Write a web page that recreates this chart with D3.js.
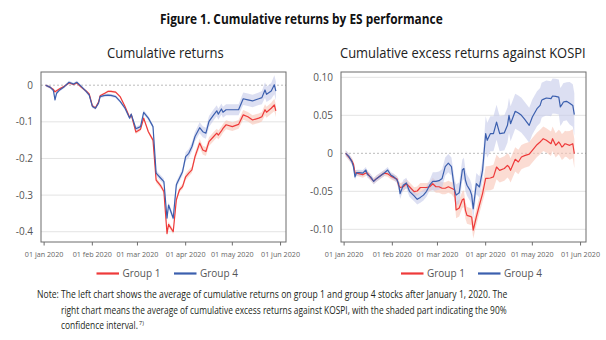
<!DOCTYPE html>
<html>
<head>
<meta charset="utf-8">
<script src="https://cdn.jsdelivr.net/npm/d3@7"></script>
<style>
  body { margin: 0; background: #fff; }
  svg { display: block; font-family: "Open Sans", sans-serif; }
</style>
</head>
<body>
<script>
// Figure 1 - cumulative returns by ES performance (two panels)

// ---- left panel: cumulative returns ----
const leftDates = ["01-02","01-05","01-07","01-08","01-09","01-11","01-14","01-17","01-20","01-22",
  "01-25","01-28","01-30","02-01","02-03","02-05","02-06","02-09","02-11","02-13",
  "02-16","02-19","02-22","02-25","02-26","02-29","03-03","03-05","03-08","03-11",
  "03-13","03-16","03-18","03-20","03-21","03-24","03-26","03-28","03-30","04-01",
  "04-03","04-05","04-07","04-10","04-12","04-14","04-16","04-19","04-21","04-22",
  "04-24","04-25","04-27","05-01","05-05","05-08","05-11","05-14","05-18","05-20",
  "05-22","05-23","05-26","05-28","05-29"];
const leftGroup1 = [0, -0.006, -0.012, -0.018, -0.015, -0.010, -0.003, 0.006, 0.002, 0.006,
  -0.006, -0.016, -0.024, -0.056, -0.062, -0.046, -0.029, -0.022, -0.017, -0.017,
  -0.019, -0.032, -0.058, -0.088, -0.080, -0.128, -0.120, -0.090, -0.127, -0.150,
  -0.259, -0.275, -0.290, -0.405, -0.380, -0.400, -0.313, -0.286, -0.277, -0.250,
  -0.240, -0.231, -0.195, -0.158, -0.177, -0.181, -0.154, -0.140, -0.131, -0.136,
  -0.125, -0.118, -0.108, -0.113, -0.107, -0.081, -0.086, -0.095, -0.090, -0.086,
  -0.067, -0.074, -0.063, -0.054, -0.070];
const leftGroup4 = [0, -0.006, -0.015, -0.040, -0.022, -0.013, -0.004, 0.008, 0.003, 0.008,
  -0.004, -0.017, -0.027, -0.058, -0.063, -0.049, -0.031, -0.028, -0.027, -0.028,
  -0.031, -0.045, -0.063, -0.090, -0.079, -0.119, -0.113, -0.074, -0.090, -0.113,
  -0.240, -0.254, -0.263, -0.363, -0.327, -0.363, -0.272, -0.254, -0.236, -0.195,
  -0.186, -0.168, -0.140, -0.116, -0.127, -0.131, -0.099, -0.081, -0.070, -0.079,
  -0.065, -0.074, -0.067, -0.067, -0.067, -0.037, -0.040, -0.043, -0.037, -0.034,
  -0.013, -0.025, -0.016, 0.001, -0.016];
// half width of the shaded band
const leftCi1 = [0.003, 0.003, 0.003, 0.003, 0.003, 0.003, 0.003, 0.003, 0.003, 0.003,
  0.003, 0.003, 0.003, 0.003, 0.003, 0.003, 0.003, 0.003, 0.003, 0.003,
  0.003, 0.003, 0.003, 0.003, 0.003, 0.005, 0.005, 0.005, 0.005, 0.005,
  0.007, 0.007, 0.007, 0.007, 0.007, 0.007, 0.007, 0.007, 0.007, 0.009,
  0.009, 0.009, 0.010, 0.012, 0.012, 0.012, 0.012, 0.012, 0.012, 0.012,
  0.012, 0.012, 0.012, 0.012, 0.012, 0.013, 0.013, 0.013, 0.013, 0.013,
  0.015, 0.015, 0.015, 0.017, 0.017];
const leftCi4 = [0.004, 0.004, 0.004, 0.004, 0.004, 0.004, 0.004, 0.004, 0.004, 0.004,
  0.004, 0.004, 0.004, 0.004, 0.004, 0.004, 0.004, 0.004, 0.004, 0.004,
  0.004, 0.004, 0.004, 0.004, 0.004, 0.006, 0.006, 0.006, 0.006, 0.006,
  0.008, 0.008, 0.008, 0.008, 0.008, 0.008, 0.009, 0.009, 0.010, 0.012,
  0.012, 0.012, 0.013, 0.015, 0.015, 0.015, 0.015, 0.015, 0.015, 0.015,
  0.015, 0.015, 0.015, 0.015, 0.015, 0.017, 0.017, 0.017, 0.017, 0.018,
  0.021, 0.021, 0.022, 0.026, 0.026];
const leftYTicks = [0, -0.1, -0.2, -0.3, -0.4];
const leftYLabels = ["0", "-0.1", "-0.2", "-0.3", "-0.4"];

// ---- right panel: cumulative excess returns against KOSPI ----
const rightDates = ["01-02","01-04","01-06","01-07","01-08","01-09","01-11","01-13","01-15","01-16",
  "01-18","01-20","01-22","01-25","01-27","01-29","01-31","02-02","02-04","02-05",
  "02-06","02-08","02-10","02-12","02-15","02-17","02-19","02-21","02-23","02-25",
  "02-27","02-29","03-02","03-04","03-06","03-08","03-10","03-12","03-13","03-15",
  "03-17","03-18","03-19","03-20","03-22","03-23","03-24","03-26","03-28","03-30",
  "04-01","04-02","04-04","04-06","04-08","04-10","04-13","04-15","04-16","04-17",
  "04-20","04-22","04-24","04-26","04-29","05-01","05-04","05-06","05-07","05-08",
  "05-10","05-13","05-14","05-16","05-18","05-19","05-20","05-21","05-22","05-23",
  "05-25","05-27","05-28"];
const rightGroup1 = [0, -0.005, -0.010, -0.014, -0.026, -0.026, -0.027, -0.028, -0.026, -0.026,
  -0.032, -0.0365, -0.033, -0.0285, -0.026, -0.027, -0.030, -0.032, -0.034, -0.042,
  -0.045, -0.044, -0.040, -0.044, -0.0505, -0.0496, -0.045, -0.045, -0.045, -0.044,
  -0.040, -0.044, -0.044, -0.046, -0.046, -0.044, -0.046, -0.048, -0.0746, -0.072,
  -0.061, -0.060, -0.075, -0.0816, -0.083, -0.0838, -0.101, -0.0838, -0.068, -0.053,
  -0.033, -0.033, -0.0325, -0.031, -0.018, -0.0224, -0.020, -0.0158, -0.018, -0.0224,
  -0.0079, -0.0114, -0.0049, -0.003, -0.001, 0.004, 0.0113, 0.0149, 0.017, 0.0192,
  0.0171, 0.0126, 0.0192, 0.0105, 0.0149, 0.012, 0.0083, 0.010, 0.0126, 0.012,
  0.0105, 0.0126, -0.0005];
const rightGroup4 = [0, -0.004, -0.011, -0.0175, -0.031, -0.0255, -0.0255, -0.026, -0.022, -0.028,
  -0.031, -0.037, -0.033, -0.0285, -0.0255, -0.022, -0.0285, -0.031, -0.035, -0.040,
  -0.053, -0.042, -0.039, -0.050, -0.056, -0.0605, -0.058, -0.055, -0.050, -0.042,
  -0.037, -0.037, -0.036, -0.033, -0.0175, -0.013, -0.0175, -0.048, -0.055, -0.052,
  -0.022, -0.020, -0.0355, -0.042, -0.0487, -0.055, -0.073, -0.040, -0.0443, -0.0224,
  0.0258, 0.0171, 0.0258, 0.0258, 0.041, 0.0258, 0.027, 0.0368, 0.050, 0.039,
  0.0553, 0.053, 0.050, 0.045, 0.0368, 0.0478, 0.0587, 0.063, 0.0697, 0.071,
  0.0728, 0.0719, 0.0754, 0.075, 0.074, 0.061, 0.064, 0.0675, 0.068, 0.0684,
  0.066, 0.063, 0.051];
const rightCi1 = [0.004, 0.004, 0.004, 0.004, 0.004, 0.004, 0.004, 0.004, 0.004, 0.004,
  0.004, 0.004, 0.004, 0.004, 0.004, 0.004, 0.004, 0.004, 0.004, 0.006,
  0.006, 0.006, 0.006, 0.006, 0.006, 0.006, 0.006, 0.006, 0.006, 0.006,
  0.008, 0.008, 0.008, 0.008, 0.008, 0.008, 0.008, 0.011, 0.011, 0.011,
  0.011, 0.011, 0.011, 0.011, 0.011, 0.011, 0.011, 0.011, 0.011, 0.011,
  0.016, 0.016, 0.016, 0.016, 0.016, 0.016, 0.016, 0.016, 0.016, 0.016,
  0.016, 0.016, 0.016, 0.016, 0.016, 0.016, 0.016, 0.016, 0.016, 0.016,
  0.016, 0.016, 0.016, 0.016, 0.016, 0.017, 0.017, 0.017, 0.017, 0.017,
  0.019, 0.019, 0.019];
const rightCi4 = [0.004, 0.004, 0.004, 0.004, 0.004, 0.004, 0.004, 0.004, 0.004, 0.004,
  0.004, 0.004, 0.004, 0.004, 0.004, 0.004, 0.004, 0.004, 0.004, 0.007,
  0.007, 0.007, 0.007, 0.007, 0.007, 0.007, 0.007, 0.007, 0.007, 0.007,
  0.012, 0.012, 0.012, 0.012, 0.012, 0.012, 0.012, 0.014, 0.014, 0.014,
  0.014, 0.014, 0.014, 0.014, 0.014, 0.014, 0.014, 0.014, 0.014, 0.014,
  0.023, 0.023, 0.023, 0.023, 0.023, 0.023, 0.023, 0.023, 0.023, 0.023,
  0.023, 0.023, 0.023, 0.023, 0.023, 0.023, 0.023, 0.023, 0.023, 0.023,
  0.023, 0.023, 0.023, 0.023, 0.023, 0.025, 0.025, 0.025, 0.025, 0.025,
  0.028, 0.028, 0.028];
const rightYTicks = [0.10, 0.05, 0, -0.05, -0.10];
const rightYLabels = ["0.10", "0.05", "0", "-0.05", "-0.10"];

// shared x ticks
const xTicks = ["01-01", "02-01", "03-01", "04-01", "05-01", "06-01"];
const xTickLabels = ["01 jan 2020", "01 feb 2020", "01 mar 2020", "01 apr 2020", "01 may 2020", "01 jun 2020"];

const seriesNames = ["Group 1", "Group 4"];
const lineColors = ["#ee3a3a", "#3b5fae"];
const bandColors = ["#f9c4b6", "#c5c9ea"];

const noteLines = [
  "Note: The left chart shows the average of cumulative returns on group 1 and group 4 stocks after January 1, 2020. The",
  "right chart means the average of cumulative excess returns against KOSPI, with the shaded part indicating the 90%",
  "confidence interval."
];

(function() {
  const parse = s => d3.timeParse("%Y-%m-%d")("2020-" + s);

  const svg = d3.select("body").append("svg")
    .attr("width", 606)
    .attr("height", 340);

  // scale a text horizontally so it spans the given width (the source font is narrow)
  function fitText(sel, x, y, width) {
    const natural = sel.node().getComputedTextLength();
    const k = width / natural;
    sel.attr("x", 0).attr("y", 0)
      .attr("transform", "translate(" + x + "," + y + ") scale(" + k + ",1)");
    return sel;
  }

  fitText(svg.append("text")
    .attr("font-size", 14).attr("font-weight", "bold").attr("fill", "#111")
    .text("Figure 1. Cumulative returns by ES performance"), 160, 24, 283);

  // draw one panel
  function drawPanel(opt) {
    const left = opt.left, right = left + 245, top = 72, bottom = 242;

    const x = d3.scaleTime()
      .domain([new Date(2019, 11, 30), new Date(2020, 5, 4, 12)])
      .range([left, right]);
    const y = d3.scaleLinear().domain(opt.yDomain).range([bottom, top]);

    const g = svg.append("g");

    fitText(g.append("text")
      .attr("font-size", 14).attr("fill", "#222")
      .text(opt.title), opt.titleX, 58, opt.titleW);

    // grid
    opt.yTicks.forEach((t, i) => {
      g.append("line")
        .attr("x1", left).attr("x2", right)
        .attr("y1", y(t)).attr("y2", y(t))
        .attr("stroke", t === 0 ? "#aaa" : "#e3e3e3")
        .attr("stroke-width", t === 0 ? 0.8 : 1)
        .attr("stroke-dasharray", t === 0 ? "2,2" : null);
      g.append("text")
        .attr("x", left - 8).attr("y", y(t) + 3.5)
        .attr("text-anchor", "end")
        .attr("font-size", 10).attr("fill", "#555")
        .text(opt.yLabels[i]);
    });

    const series = opt.values.map((vals, k) => vals.map((v, i) => ({
      date: parse(opt.dates[i]), value: v, ci: opt.cis[k][i]
    })));

    const area = d3.area()
      .x(d => x(d.date))
      .y0(d => y(d.value - d.ci))
      .y1(d => y(d.value + d.ci));
    const line = d3.line()
      .x(d => x(d.date))
      .y(d => y(d.value));

    series.forEach((s, k) => {
      g.append("path").datum(s)
        .attr("fill", bandColors[k]).attr("fill-opacity", 0.6)
        .attr("d", area);
    });
    series.forEach((s, k) => {
      g.append("path").datum(s)
        .attr("fill", "none")
        .attr("stroke", lineColors[k]).attr("stroke-width", 1.2)
        .attr("stroke-linejoin", "round")
        .attr("d", line);
    });

    // frame
    g.append("rect")
      .attr("x", left).attr("y", top)
      .attr("width", right - left).attr("height", bottom - top)
      .attr("fill", "none").attr("stroke", "#6d6d6d").attr("stroke-width", 1);

    // x axis ticks
    xTicks.forEach((t, i) => {
      const px = x(parse(t));
      g.append("line")
        .attr("x1", px).attr("x2", px)
        .attr("y1", bottom).attr("y2", bottom + 3.5)
        .attr("stroke", "#6d6d6d");
      g.append("text")
        .attr("x", px).attr("y", 257)
        .attr("text-anchor", "middle")
        .attr("font-size", 7.2).attr("fill", "#666")
        .text(xTickLabels[i]);
    });

    // legend
    opt.legendX.forEach((lx, k) => {
      g.append("line")
        .attr("x1", lx).attr("x2", lx + 22.5)
        .attr("y1", 273.5).attr("y2", 273.5)
        .attr("stroke", lineColors[k]).attr("stroke-width", 2.2);
      g.append("text")
        .attr("x", lx + 26).attr("y", 277)
        .attr("font-size", 10).attr("fill", "#555")
        .text(seriesNames[k]);
    });
  }

  drawPanel({
    left: 41, yDomain: [-0.428, 0.036],
    title: "Cumulative returns", titleX: 107, titleW: 117,
    yTicks: leftYTicks, yLabels: leftYLabels,
    dates: leftDates, values: [leftGroup1, leftGroup4], cis: [leftCi1, leftCi4],
    legendX: [96.5, 174]
  });

  drawPanel({
    left: 341, yDomain: [-0.1167, 0.107],
    title: "Cumulative excess returns against KOSPI", titleX: 340, titleW: 246,
    yTicks: rightYTicks, yLabels: rightYLabels,
    dates: rightDates, values: [rightGroup1, rightGroup4], cis: [rightCi1, rightCi4],
    legendX: [401, 478]
  });

  // note
  const note = svg.append("g").attr("font-size", 11).attr("fill", "#231f20");
  fitText(note.append("text").text(noteLines[0]), 37, 298, 471);
  fitText(note.append("text").text(noteLines[1]), 61, 314, 446);
  fitText(note.append("text").text(noteLines[2]), 61, 329, 77);
  note.append("text")
    .attr("x", 139).attr("y", 325)
    .attr("font-size", 5.5)
    .text("7)");
})();
</script>
</body>
</html>
